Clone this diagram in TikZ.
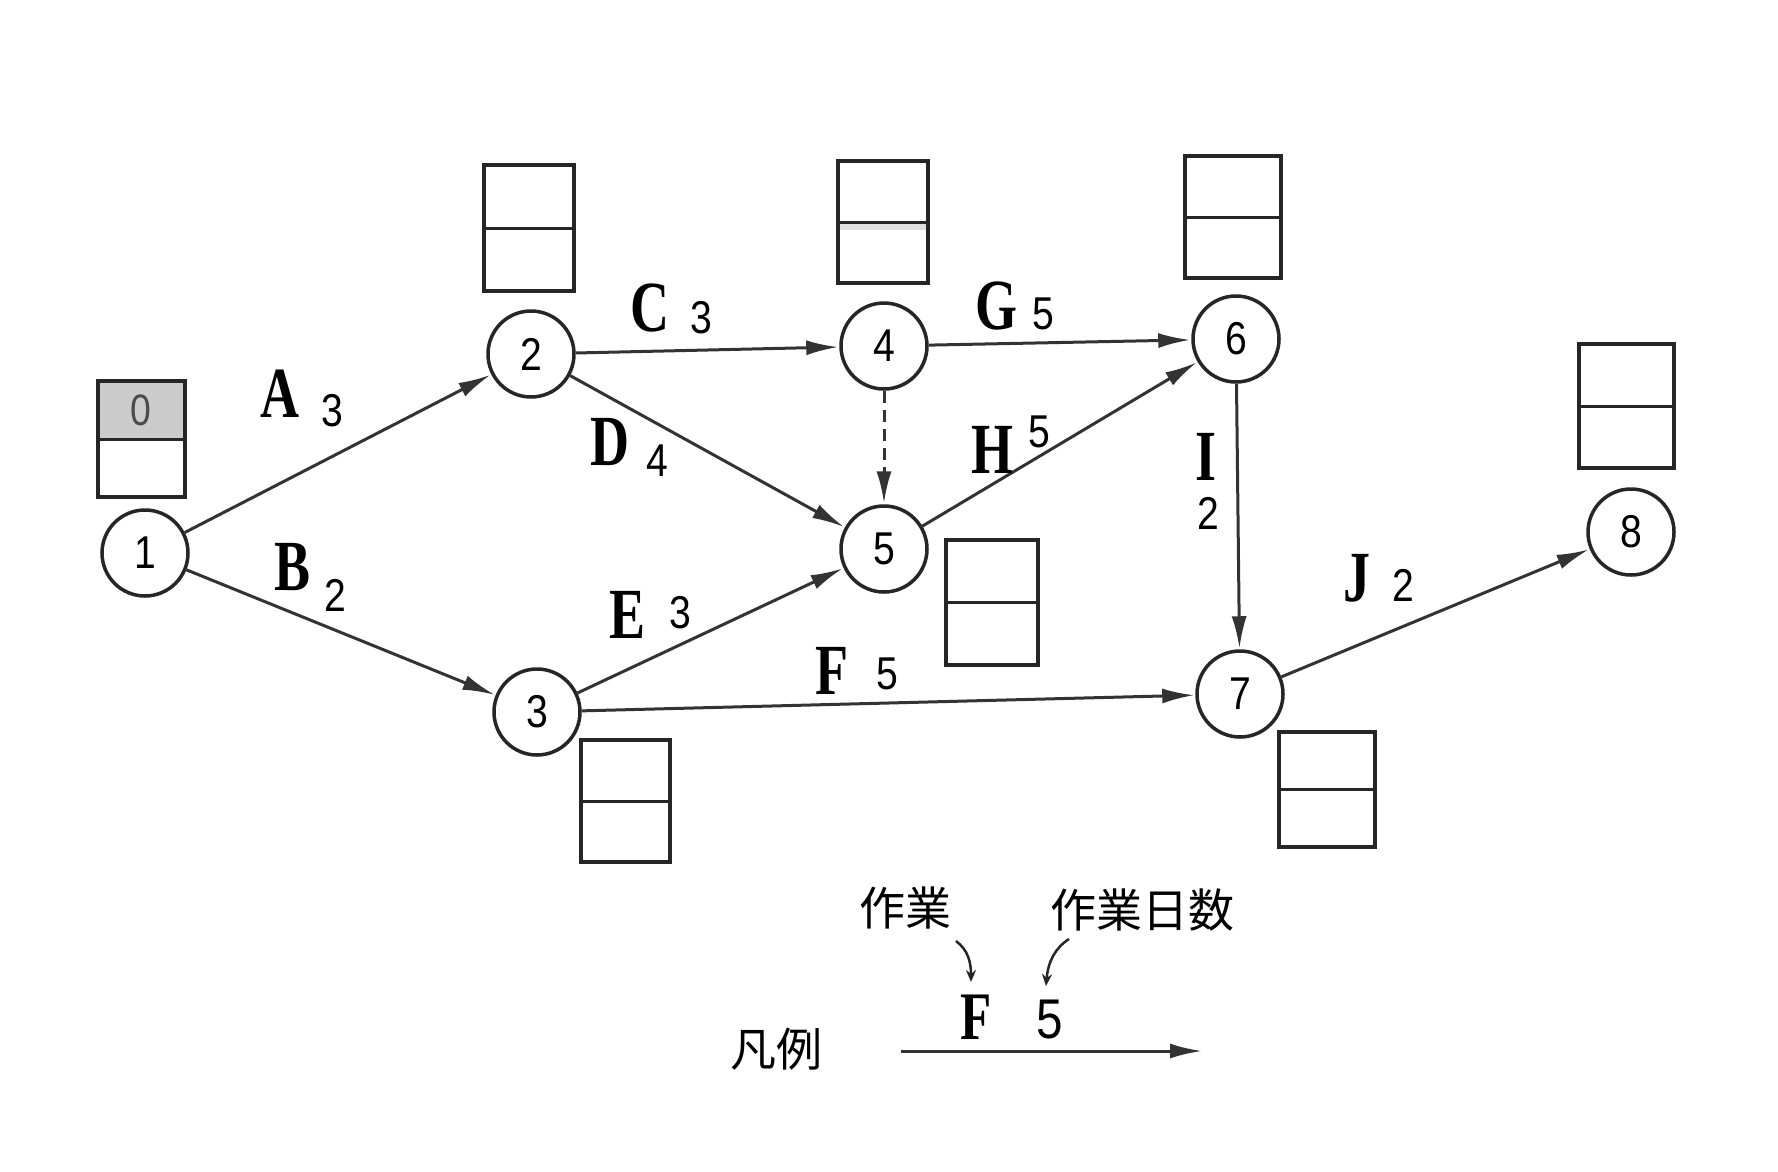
\documentclass[tikz,border=0pt]{standalone}
\usepackage{fontspec}
\setmainfont{Liberation Serif}
\newfontfamily\numfont[FakeStretch=0.85]{Liberation Sans}
\newfontfamily\letfont[FakeStretch=0.75]{Liberation Serif}
\newfontfamily\cjkfont{Noto Sans CJK JP}
\usetikzlibrary{arrows.meta}
\begin{document}
\begin{tikzpicture}[x=1pt,y=-1pt,
  ev/.style={circle,draw=black!85,line width=3.5pt,minimum size=86pt,inner sep=0pt,
    font=\numfont\fontsize{46}{50}\selectfont},
  act/.style={line width=3pt,draw=black!80,-{Latex[length=32pt,width=15pt]},shorten >=1pt},
  dum/.style={act,dashed,dash pattern=on 12pt off 7pt},
  lbl/.style={font=\letfont\bfseries\fontsize{72}{76}\selectfont,inner sep=0pt},
  dur/.style={font=\numfont\fontsize{46}{50}\selectfont,inner sep=0pt},
  bx/.style={draw=black!85,line width=3.5pt,inner sep=0pt,minimum width=92pt,minimum height=122pt},
  mid/.style={draw=black!85,line width=3pt},
  cjk/.style={font=\cjkfont\fontsize{46}{50}\selectfont,inner sep=0pt},
  thinarr/.style={line width=2.5pt,draw=black!85,-{Stealth[length=12pt,width=10pt]}}]
\useasboundingbox (0,0) rectangle (1778,1171);
\fill[white] (0,0) rectangle (1778,1171);

% event nodes
\node[ev] (n1) at (145,553) {1};
\node[ev] (n2) at (531,354) {2};
\node[ev] (n3) at (537,712) {3};
\node[ev] (n4) at (884,346) {4};
\node[ev] (n5) at (884,549) {5};
\node[ev] (n6) at (1236,339) {6};
\node[ev] (n7) at (1240,694) {7};
\node[ev] (n8) at (1631,532) {8};

% tables
\node[bx,minimum width=87pt,minimum height=116pt,
  path picture={\fill[gray!40] (path picture bounding box.north west) rectangle (path picture bounding box.east);}]
  (b1) at (141.5,439) {};
\node[bx,minimum width=90pt,minimum height=126pt] (b2) at (529,228) {};
\node[bx,minimum width=90pt,
  path picture={\fill[gray!25] (path picture bounding box.west) rectangle ([yshift=-8pt]path picture bounding box.east);}]
  (b4) at (883,222) {};
\node[bx,minimum width=96pt] (b6) at (1233,217) {};
\node[bx,minimum width=95pt,minimum height=124pt] (b8) at (1626.5,406) {};
\node[bx,minimum height=125pt] (b5) at (992,602.5) {};
\node[bx,minimum width=89pt] (b3) at (625.5,801) {};
\node[bx,minimum width=96pt,minimum height=115pt] (b7) at (1327,789.5) {};
\foreach \b in {b1,b2,b4,b6,b8,b5,b3,b7} {\draw[mid] (\b.west) -- (\b.east);}
\node[font=\numfont\fontsize{44}{48}\selectfont,text=black!70] (zero) at (141,410) {0};

% activities
\draw[act] (n1) -- (n2);
\draw[act] (n1) -- (n3);
\draw[act] (n2) -- (n4);
\draw[act] (n2) -- (n5);
\draw[act] (n3) -- (n5);
\draw[act] (n3) -- (n7);
\draw[dum] (n4) -- (n5);
\draw[act] (n4) -- (n6);
\draw[act] (n5) -- (n6);
\draw[act] (n6) -- (n7);
\draw[act] (n7) -- (n8);

% labels
\node[lbl] (lA) at (280,394) {A}; \node[dur] (dA) at (332,411) {3};
\node[lbl] (lB) at (293,567) {B}; \node[dur] (dB) at (335,595) {2};
\node[lbl] (lC) at (650,308) {C}; \node[dur] (dC) at (701,318) {3};
\node[lbl] (lD) at (610,442) {D}; \node[dur] (dD) at (657,461) {4};
\node[lbl] (lE) at (628,615) {E}; \node[dur] (dE) at (680,613) {3};
\node[lbl] (lF) at (832,671) {F}; \node[dur] (dF) at (887,674) {5};
\node[lbl] (lG) at (996,306) {G}; \node[dur] (dG) at (1043,314) {5};
\node[lbl] (lH) at (992,450) {H}; \node[dur] (dH) at (1039,432) {5};
\node[lbl] (lI) at (1206,457) {I}; \node[dur] (dI) at (1208,513) {2};
\node[lbl] (lJ) at (1357,578) {J}; \node[dur] (dJ) at (1403,585) {2};

% legend
\node[cjk] (hanrei) at (776,1049) {凡例};
\node[cjk] (sagyo) at (905,908) {作業};
\node[cjk] (nissu) at (1142,910) {作業日数};
\node[font=\letfont\bfseries\fontsize{68}{72}\selectfont,inner sep=0pt] (legF) at (976,1017) {F};
\node[font=\numfont\fontsize{56}{60}\selectfont,inner sep=0pt] (leg5) at (1050,1019) {5};
\coordinate (la) at (901,1051);
\coordinate (lb) at (1203,1051);
\draw[act] (la) -- (lb);
\coordinate (c1s) at (956,941);
\coordinate (c1e) at (971,982);
\draw[thinarr] (c1s) .. controls (968,950) and (971,962) .. (c1e);
\coordinate (c2s) at (1069,939);
\coordinate (c2e) at (1046,986);
\draw[thinarr] (c2s) .. controls (1055,948) and (1048,962) .. (c2e);
\end{tikzpicture}
\end{document}
